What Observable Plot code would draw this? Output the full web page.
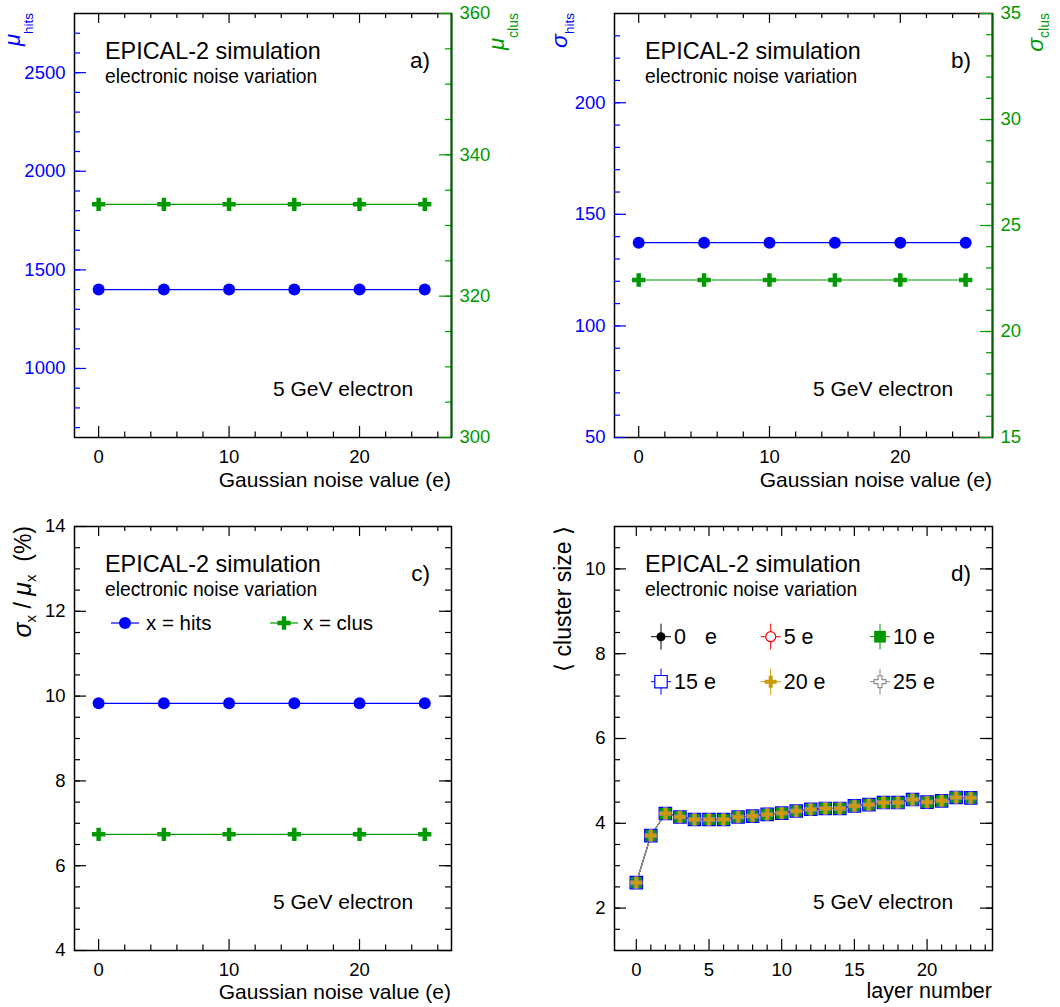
<!DOCTYPE html>
<html><head><meta charset="utf-8">
<script src="https://cdn.jsdelivr.net/npm/d3@7"></script>
<script src="https://cdn.jsdelivr.net/npm/@observablehq/plot@0.6"></script>
<style>
body{margin:0;background:#fff;}
#wrap{position:relative;width:1060px;height:1007px;overflow:hidden;}
</style></head><body><div id="wrap"></div>
<script>
// ---------------- data ----------------
const noise = [0, 5, 10, 15, 20, 25];
const muHits = [1400, 1400, 1400, 1400, 1400, 1400];
const muClus = [333.0, 333.0, 333.0, 333.0, 333.0, 333.0];
const sigmaHits = [137.3, 137.3, 137.3, 137.3, 137.3, 137.3];
const sigmaClus = [22.43, 22.43, 22.43, 22.43, 22.43, 22.43];
const relHits = [9.83, 9.83, 9.83, 9.83, 9.83, 9.83];
const relClus = [6.74, 6.74, 6.74, 6.74, 6.74, 6.74];
const layers = [0,1,2,3,4,5,6,7,8,9,10,11,12,13,14,15,16,17,18,19,20,21,22,23];
// mean cluster size per layer (all six noise settings overlap in the figure)
const clusterSize = [2.60,3.71,4.23,4.15,4.09,4.09,4.09,4.15,4.17,4.21,4.24,4.29,4.33,4.35,4.35,4.41,4.44,4.49,4.49,4.56,4.50,4.53,4.61,4.60];
const noiseLabels = ["0 e", "5 e", "10 e", "15 e", "20 e", "25 e"];

// tick labels
const xNoiseLabels = [0, 10, 20];
const xNoiseMinor = [2,4,6,8,12,14,16,18,22,24,26];
const yMuHitsLabels = [1000, 1500, 2000, 2500];
const yMuClusLabels = [300, 320, 340, 360];
const ySigHitsLabels = [50, 100, 150, 200];
const ySigClusLabels = [15, 20, 25, 30, 35];
const yRelLabels = [4, 6, 8, 10, 12, 14];
const xLayerLabels = [0, 5, 10, 15, 20];
const yClusterLabels = [2, 4, 6, 8, 10];

// ---------------- style ----------------
const FONT = '"Liberation Sans", Arial, Helvetica, sans-serif';
const BLUE = "#0000ff", GREEN = "#009a00", DKGREEN = "#006400";
const GOLD = "#cc9a06", GREY = "#8a8a8a", RED = "#ff0000";
const wrap = document.getElementById("wrap");

function mkPlot(o) {
  const svg = Plot.plot({
    width: o.w, height: o.h,
    marginTop: o.m[0], marginRight: o.m[1], marginBottom: o.m[2], marginLeft: o.m[3],
    x: {domain: o.xd, ...(o.xopt || {})},
    y: {domain: o.yd, ...(o.yopt || {})},
    style: {fontFamily: FONT, fontSize: "18px", background: "transparent", overflow: "visible"},
    marks: o.marks
  });
  svg.style.position = "absolute";
  svg.style.left = o.left + "px";
  svg.style.top = o.top + "px";
  wrap.appendChild(svg);
  return svg;
}
const range = (a, b, s) => d3.range(a, b + s / 2, s);
function xTicks(H, maj, min) {
  return [
    Plot.tickX(maj, {x: d => d, insetTop: H - 11, stroke: "black", strokeWidth: 1.2}),
    Plot.tickX(min, {x: d => d, insetTop: H - 5.5, stroke: "black", strokeWidth: 1.2}),
    Plot.tickX(maj, {x: d => d, insetBottom: H - 10, stroke: "black", strokeWidth: 1.2}),
    Plot.tickX(min, {x: d => d, insetBottom: H - 5, stroke: "black", strokeWidth: 1.2})
  ];
}
function yTicks(W, maj, min, side, stroke) {
  const k = side === "left" ? "insetRight" : "insetLeft";
  return [
    Plot.tickY(maj, {y: d => d, [k]: W - 12, stroke, strokeWidth: 1.2}),
    Plot.tickY(min, {y: d => d, [k]: W - 6, stroke, strokeWidth: 1.2})
  ];
}
function xLabels(ticks) {
  return Plot.axisX({ticks, tickSize: 0, tickPadding: 12, fontSize: 18.5, fill: "black", label: null, tickFormat: d => String(d)});
}
function yLabels(ticks, anchor, fill, pad) {
  return Plot.axisY({ticks, anchor, tickSize: 0, tickPadding: pad, fontSize: 18.5, fill, label: null, tickFormat: d => String(d)});
}
function txt(svg, x, y, s, size, opt = {}) {
  return d3.select(svg).append("text").attr("x", x).attr("y", y)
    .attr("font-family", FONT).attr("font-size", size)
    .attr("text-anchor", opt.anchor || "start").attr("fill", opt.fill || "black").text(s);
}
function rtxt(svg, x, y, parts, fill) {
  const t = d3.select(svg).append("text")
    .attr("transform", `translate(${x},${y}) rotate(-90)`)
    .attr("text-anchor", "end").attr("fill", fill || "black").attr("font-family", FONT);
  parts.forEach(p => {
    const s = t.append("tspan").attr("font-size", p.size).attr("dy", p.dy || 0).text(p.t);
    if (p.italic) s.attr("font-style", "italic");
  });
}
function annotate(svg, m, W, label, H) {
  const L = m[3], T = m[0];
  txt(svg, L + 31, T + 46.3, "EPICAL-2 simulation", 23.4);
  txt(svg, L + 31, T + 70.3, "electronic noise variation", 19.3);
  txt(svg, L + W - 21, T + 55.3, label, 22.5, {anchor: "end"});
  txt(svg, L + 199, T + H - 41.3, "5 GeV electron", 21);
}

// ---------------- panel a ----------------
{
  const m = [13, 79, 63, 74], w = 530, h = 500, W = w - m[1] - m[3], H = h - m[0] - m[2];
  const xd = [-1.85, 27.05];
  const dA = noise.map((n, i) => ({noise: n, hits: muHits[i], clus: muClus[i]}));
  const svg = mkPlot({w, h, m, xd, yd: [650, 2800], left: 0, top: 0, marks: [
    Plot.frame({stroke: "black", strokeWidth: 1.5}),
    ...xTicks(H, xNoiseLabels, xNoiseMinor),
    ...yTicks(W, yMuHitsLabels, range(700, 2700, 100), "left", BLUE),
    xLabels(xNoiseLabels),
    yLabels(yMuHitsLabels, "left", BLUE, 9),
    Plot.line(dA, {x: "noise", y: "hits", stroke: BLUE, strokeWidth: 1.2}),
    Plot.dot(dA, {x: "noise", y: "hits", r: 6, fill: BLUE})
  ]});
  const svg2 = mkPlot({w, h, m, xd, yd: [300, 360], left: 0, top: 0, xopt: {axis: null}, marks: [
    ...yTicks(W, yMuClusLabels, range(305, 355, 5), "right", GREEN),
    yLabels(yMuClusLabels, "right", GREEN, 8),
    Plot.ruleX([xd[1]], {stroke: DKGREEN, strokeWidth: 2}),
    Plot.line(dA, {x: "noise", y: "clus", stroke: GREEN, strokeWidth: 1.2}),
    Plot.dot(dA, {x: "noise", y: "clus", symbol: "cross", r: 5.6, fill: GREEN})
  ]});
  annotate(svg2, m, W, "a)", H);
  txt(svg2, m[3] + W, m[0] + H + 49.7, "Gaussian noise value (e)", 21, {anchor: "end"});
  rtxt(svg2, 20, 13, [{t: "μ", size: 22, italic: true}, {t: "hits", size: 13.5, dy: 13}], BLUE);
  rtxt(svg2, 504, 13, [{t: "μ", size: 22, italic: true}, {t: "clus", size: 14, dy: 14}], GREEN);
}

// ---------------- panel b ----------------
{
  const m = [13, 68, 63, 84], w = 530, h = 500, W = w - m[1] - m[3], H = h - m[0] - m[2];
  const xd = [-1.85, 27.05];
  const dB = noise.map((n, i) => ({noise: n, hits: sigmaHits[i], clus: sigmaClus[i]}));
  const svg = mkPlot({w, h, m, xd, yd: [50, 240], left: 530, top: 0, marks: [
    Plot.frame({stroke: "black", strokeWidth: 1.5}),
    ...xTicks(H, xNoiseLabels, xNoiseMinor),
    ...yTicks(W, ySigHitsLabels, range(60, 230, 10), "left", BLUE),
    xLabels(xNoiseLabels),
    yLabels(ySigHitsLabels, "left", BLUE, 9),
    Plot.line(dB, {x: "noise", y: "hits", stroke: BLUE, strokeWidth: 1.2}),
    Plot.dot(dB, {x: "noise", y: "hits", r: 6, fill: BLUE})
  ]});
  const svg2 = mkPlot({w, h, m, xd, yd: [15, 35], left: 530, top: 0, xopt: {axis: null}, marks: [
    ...yTicks(W, ySigClusLabels, range(16, 34, 1), "right", GREEN),
    yLabels(ySigClusLabels, "right", GREEN, 8),
    Plot.ruleX([xd[1]], {stroke: DKGREEN, strokeWidth: 2}),
    Plot.line(dB, {x: "noise", y: "clus", stroke: GREEN, strokeWidth: 1.2}),
    Plot.dot(dB, {x: "noise", y: "clus", symbol: "cross", r: 5.6, fill: GREEN})
  ]});
  annotate(svg2, m, W, "b)", H);
  txt(svg2, m[3] + W, m[0] + H + 49.7, "Gaussian noise value (e)", 21, {anchor: "end"});
  rtxt(svg2, 37, 13, [{t: "σ", size: 23, italic: true}, {t: "hits", size: 13.5, dy: 6.5}], BLUE);
  rtxt(svg2, 513, 13, [{t: "σ", size: 23, italic: true}, {t: "clus", size: 14, dy: 6}], GREEN);
}

// ---------------- panel c ----------------
{
  const m = [26, 79, 57, 74], w = 530, h = 507, W = w - m[1] - m[3], H = h - m[0] - m[2];
  const xd = [-1.85, 27.05];
  const dC = noise.map((n, i) => ({noise: n, hits: relHits[i], clus: relClus[i]}));
  const svg = mkPlot({w, h, m, xd, yd: [4, 14], left: 0, top: 500, marks: [
    Plot.frame({stroke: "black", strokeWidth: 1.5}),
    ...xTicks(H, xNoiseLabels, xNoiseMinor),
    ...yTicks(W, yRelLabels, range(4.5, 13.5, 0.5), "left", "black"),
    ...yTicks(W, yRelLabels, range(4.5, 13.5, 0.5), "right", "black"),
    xLabels(xNoiseLabels),
    yLabels(yRelLabels, "left", "black", 9),
    Plot.line(dC, {x: "noise", y: "hits", stroke: BLUE, strokeWidth: 1.2}),
    Plot.dot(dC, {x: "noise", y: "hits", r: 6, fill: BLUE}),
    Plot.line(dC, {x: "noise", y: "clus", stroke: GREEN, strokeWidth: 1.2}),
    Plot.dot(dC, {x: "noise", y: "clus", symbol: "cross", r: 5.6, fill: GREEN})
  ]});
  annotate(svg, m, W, "c)", H);
  txt(svg, m[3] + W, m[0] + H + 49, "Gaussian noise value (e)", 21, {anchor: "end"});
  rtxt(svg, 31, 26, [
    {t: "σ", size: 25, italic: true}, {t: "x", size: 15, dy: 5},
    {t: " / ", size: 23, dy: -5}, {t: "μ", size: 25, italic: true},
    {t: "x", size: 15, dy: 5}, {t: "  (%)", size: 23, dy: -5}
  ]);
  // legend
  const g = d3.select(svg).append("g");
  const ly = 123;
  g.append("line").attr("x1", 111).attr("x2", 139).attr("y1", ly).attr("y2", ly).attr("stroke", BLUE).attr("stroke-width", 1.2);
  g.append("circle").attr("cx", 125).attr("cy", ly).attr("r", 6).attr("fill", BLUE);
  txt(svg, 146, ly + 7.3, "x = hits", 20.5);
  g.append("line").attr("x1", 270).attr("x2", 298).attr("y1", ly).attr("y2", ly).attr("stroke", GREEN).attr("stroke-width", 1.2);
  g.append("path").attr("transform", `translate(284,${ly})`).attr("d", d3.symbol(d3.symbolCross, 5.6 * 5.6 * Math.PI)()).attr("fill", GREEN);
  txt(svg, 303, ly + 7.3, "x = clus", 20.5);
}

// ---------------- panel d ----------------
{
  const m = [26, 68, 57, 84], w = 530, h = 507, W = w - m[1] - m[3], H = h - m[0] - m[2];
  const xd = [-1.5, 24.5];
  const series = [
    {name: noiseLabels[0], color: "black", symbol: "circle", r: 4.5, fill: "black"},
    {name: noiseLabels[1], color: RED, symbol: "circle", r: 5, fill: "none"},
    {name: noiseLabels[2], color: GREEN, symbol: "square", r: 6.6, fill: GREEN},
    {name: noiseLabels[3], color: BLUE, symbol: "square", r: 7.0, fill: "none"},
    {name: noiseLabels[4], color: GOLD, symbol: "cross", r: 5.0, fill: GOLD},
    {name: noiseLabels[5], color: GREY, symbol: "cross", r: 5.0, fill: "none"}
  ];
  const table = series.map(s => layers.map((l, i) => ({layer: l, size: clusterSize[i], noise: s.name})));
  const lineMarks = series.map((s, k) => Plot.line(table[k], {x: "layer", y: "size", stroke: s.color, strokeWidth: k === 5 ? 1.3 : 1}));
  const dotMarks = series.map((s, k) => Plot.dot(table[k], {
    x: "layer", y: "size", symbol: s.symbol, r: s.r,
    fill: s.fill, stroke: s.fill === "none" ? s.color : "none", strokeWidth: k === 5 ? 0.8 : 1.2
  }));
  const svg = mkPlot({w, h, m, xd, yd: [1, 11], left: 530, top: 500, marks: [
    Plot.frame({stroke: "black", strokeWidth: 1.5}),
    ...xTicks(H, xLayerLabels, layers.filter(l => l % 5 !== 0).concat([24])),
    ...yTicks(W, yClusterLabels, range(1.5, 10.5, 0.5), "left", "black"),
    ...yTicks(W, yClusterLabels, range(1.5, 10.5, 0.5), "right", "black"),
    xLabels(xLayerLabels),
    yLabels(yClusterLabels, "left", "black", 9),
    ...lineMarks,
    ...dotMarks
  ]});
  annotate(svg, m, W, "d)", H);
  txt(svg, m[3] + W, m[0] + H + 48, "layer number", 21.5, {anchor: "end"});
  rtxt(svg, 41, 26, [{t: "⟨ cluster size ⟩", size: 23}]);
  // legend
  const g = d3.select(svg).append("g");
  const cols = [131, 240.7, 350], rows = [136.7, 181.7];
  series.forEach((s, k) => {
    const cx = cols[k % 3], cy = rows[Math.floor(k / 3)];
    g.append("line").attr("x1", cx).attr("x2", cx).attr("y1", cy - 13).attr("y2", cy + 13).attr("stroke", s.color).attr("stroke-width", 1);
    g.append("line").attr("x1", cx - 10).attr("x2", cx + 10).attr("y1", cy).attr("y2", cy).attr("stroke", s.color).attr("stroke-width", 1);
    const sym = {circle: d3.symbolCircle, square: d3.symbolSquare, cross: d3.symbolCross}[s.symbol];
    g.append("path").attr("transform", `translate(${cx},${cy})`).attr("d", d3.symbol(sym, s.r * s.r * Math.PI)())
      .attr("fill", s.fill === "none" ? "white" : s.fill).attr("stroke", s.fill === "none" ? s.color : "none").attr("stroke-width", 1.2);
    if (k === 0) {
      const t = txt(svg, cx + 13, cy + 7.5, "0", 21.5);
      t.append("tspan").attr("x", cx + 44).text("e");
    } else {
      txt(svg, cx + 13, cy + 7.5, s.name, 21.5);
    }
  });
}
</script></body></html>
